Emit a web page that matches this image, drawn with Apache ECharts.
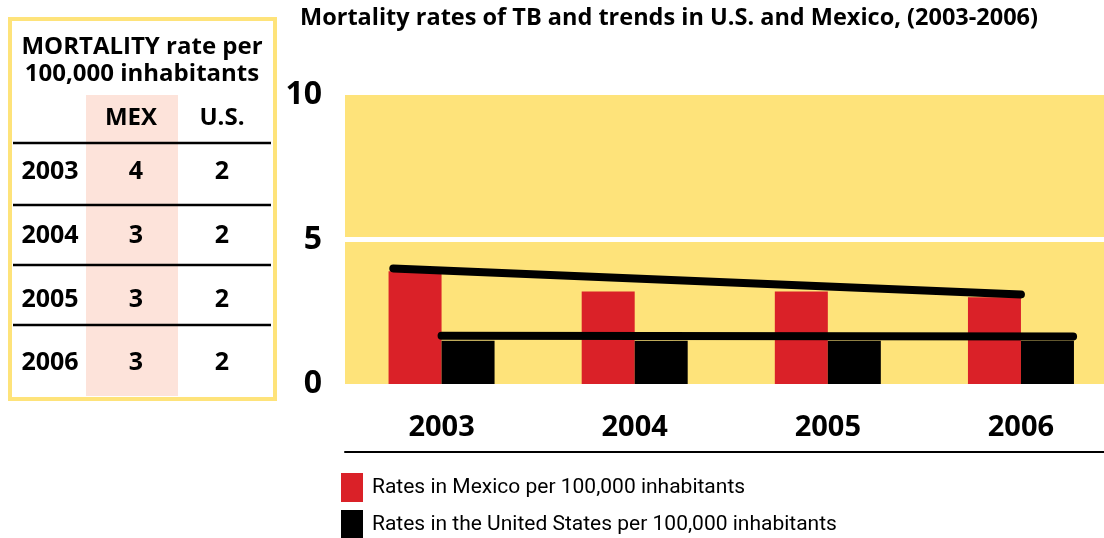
<!DOCTYPE html>
<html><head><meta charset="utf-8">
<script src="https://cdn.jsdelivr.net/npm/echarts@6/dist/echarts.min.js"></script>
<style>html,body{margin:0;padding:0;background:#fff}#c{width:1104px;height:538px}</style>
</head><body><div id="c"></div>
<script>
const categories = ['2003','2004','2005','2006'];
const mexicoRates = [3.9, 3.2, 3.2, 3.0];
const usRates = [1.5, 1.5, 1.5, 1.5];
// trend lines: [year position, rate]
const mexicoTrend = [[2002.75, 4.0], [2006.0, 3.1]];
const usTrend = [[2003.0, 1.67], [2006.27, 1.64]];
const yTicks = [0, 5, 10];
const xRange = [2002.5, 2006.43];
// table (rounded values)
const tableYears = ['2003','2004','2005','2006'];
const tableMex = [4, 3, 3, 3];
const tableUS = [2, 2, 2, 2];
const seriesNames = ['Rates in Mexico per 100,000 inhabitants', 'Rates in the United States per 100,000 inhabitants'];

const FONT = 'Open Sans';
const LEGFONT = 'Roboto';
const YELLOW = '#FEE37A';
const RED = '#DA2128';

const rowY = [172, 236, 300, 363];
const sepY = [143, 205, 265, 325];
const hdr = 'bold 24px "'+FONT+'"';
const num = 'bold 25px "'+FONT+'"';
const graphic = [
  {type:'rect', shape:{x:10, y:19, width:265, height:380}, style:{fill:'#fff', stroke:YELLOW, lineWidth:4}},
  {type:'rect', shape:{x:86, y:95, width:92, height:301}, style:{fill:'#FDE3DA'}},
  {type:'text', x:142, y:47, style:{text:'MORTALITY rate per', font:hdr, fill:'#000', align:'center', verticalAlign:'middle'}},
  {type:'text', x:142, y:74, style:{text:'100,000 inhabitants', font:hdr, fill:'#000', align:'center', verticalAlign:'middle'}},
  {type:'text', x:131, y:118, style:{text:'MEX', font:hdr, fill:'#000', align:'center', verticalAlign:'middle'}},
  {type:'text', x:222, y:118, style:{text:'U.S.', font:hdr, fill:'#000', align:'center', verticalAlign:'middle'}}
];
sepY.forEach(y => graphic.push({type:'line', shape:{x1:13, y1:y, x2:271, y2:y}, style:{stroke:'#000', lineWidth:2.5}}));
tableYears.forEach((yr, i) => {
  graphic.push({type:'text', x:50, y:rowY[i], style:{text:yr, font:num, fill:'#000', align:'center', verticalAlign:'middle'}});
  graphic.push({type:'text', x:136, y:rowY[i], style:{text:String(tableMex[i]), font:num, fill:'#000', align:'center', verticalAlign:'middle'}});
  graphic.push({type:'text', x:222, y:rowY[i], style:{text:String(tableUS[i]), font:num, fill:'#000', align:'center', verticalAlign:'middle'}});
});

const legendBase = {orient:'vertical', left:341, itemWidth:22, itemHeight:29, icon:'rect', padding:0,
  textStyle:{fontFamily:LEGFONT, fontSize:21, color:'#000', padding:[2,0,0,4]}};

const catNums = categories.map(Number);
const mexData = catNums.map((x, i) => [x, mexicoRates[i]]);
const usData = catNums.map((x, i) => [x, usRates[i]]);

const chart = echarts.init(document.getElementById('c'));
chart.setOption({
  backgroundColor:'#fff',
  animation:false,
  textStyle:{fontFamily:FONT},
  title:{text:'Mortality rates of TB and trends in U.S. and Mexico, (2003-2006)', left:300, top:6, padding:0,
    textStyle:{fontFamily:FONT, fontWeight:'bold', fontSize:23.5, color:'#000'}},
  grid:{left:345, top:95, right:0, height:289, show:true, backgroundColor:YELLOW, borderWidth:0},
  legend:[
    Object.assign({}, legendBase, {top:473, data:[seriesNames[0]]}),
    Object.assign({}, legendBase, {top:510, data:[seriesNames[1]]})
  ],
  xAxis:[
    {type:'value', min:xRange[0], max:xRange[1], position:'bottom', axisLine:{show:false}, axisTick:{show:false},
     splitLine:{show:false},
     axisLabel:{customValues:catNums, formatter:v => String(v), fontFamily:FONT, fontWeight:'bold', fontSize:29, color:'#000', margin:29}},
    {type:'value', min:xRange[0], max:xRange[1], position:'bottom', offset:68,
     axisLine:{show:true, lineStyle:{color:'#000', width:2}}, axisTick:{show:false}, axisLabel:{show:false}, splitLine:{show:false}}
  ],
  yAxis:{type:'value', min:yTicks[0], max:yTicks[yTicks.length-1], interval:yTicks[1]-yTicks[0],
    axisLine:{show:false}, axisTick:{show:false},
    axisLabel:{fontFamily:FONT, fontWeight:'bold', fontSize:32, color:'#000', margin:23},
    splitLine:{show:true, showMinLine:false, showMaxLine:false, lineStyle:{color:'#fff', width:5}}},
  series:[
    {name:seriesNames[0], type:'bar', data:mexData, barWidth:53, barGap:'0%', itemStyle:{color:RED}},
    {name:seriesNames[1], type:'bar', data:usData, barWidth:53, barGap:'0%', itemStyle:{color:'#000'}},
    {type:'line', data:mexicoTrend, symbol:'none', lineStyle:{color:'#000', width:8, cap:'round'}, z:5},
    {type:'line', data:usTrend, symbol:'none', lineStyle:{color:'#000', width:8, cap:'round'}, z:5}
  ],
  graphic:graphic
});
</script></body></html>
